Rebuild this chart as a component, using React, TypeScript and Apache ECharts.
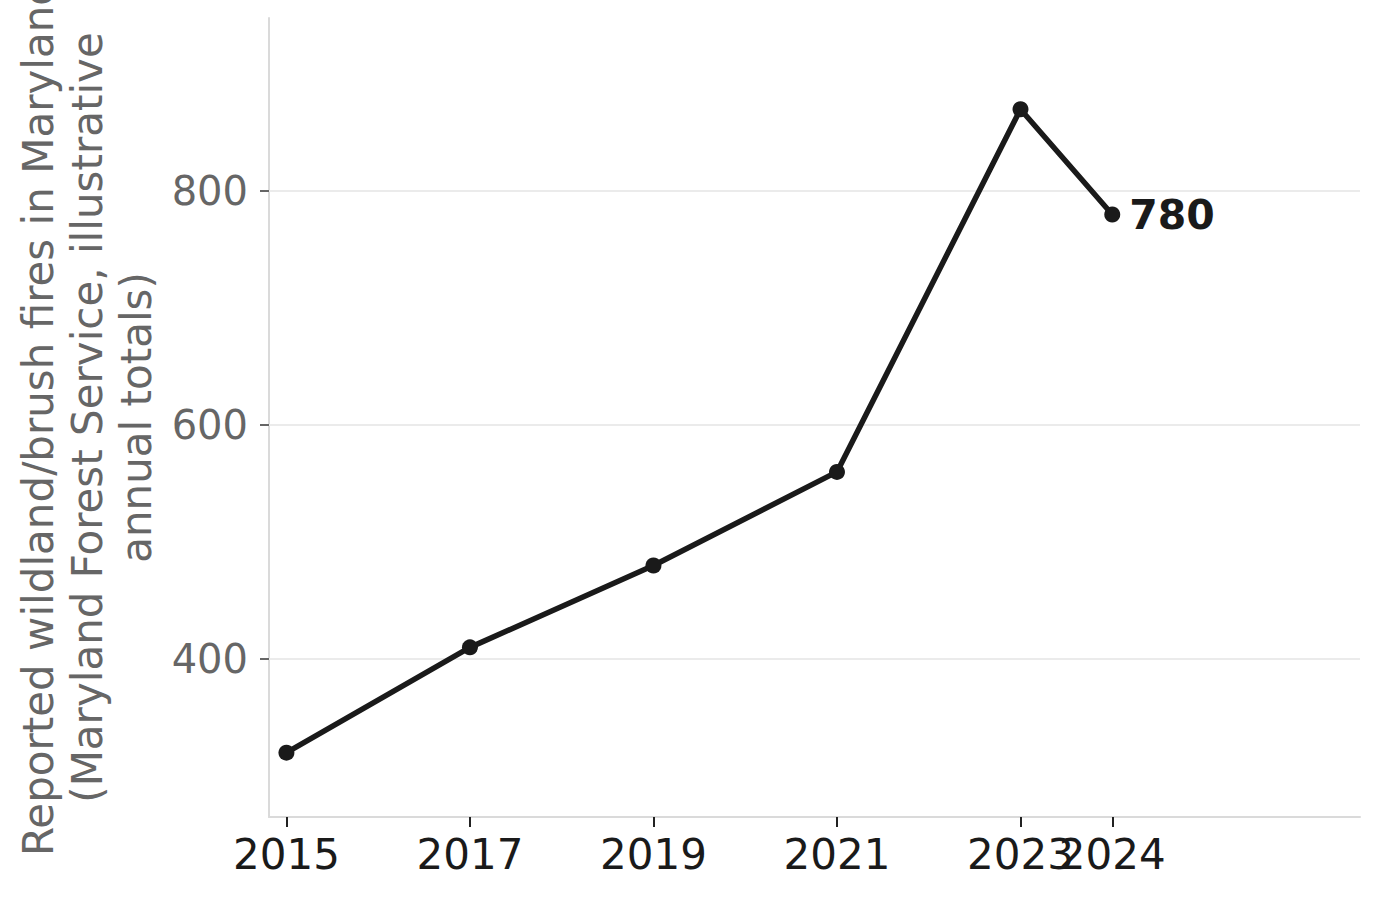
import React, { useEffect, useRef } from "react";
import * as echarts from "echarts";

const years = [2015, 2017, 2019, 2021, 2023, 2024];
const fires = [320, 410, 480, 560, 870, 780];
const yTicks = [400, 600, 800];
const yTitle = "Reported wildland/brush fires in Maryland\n(Maryland Forest Service, illustrative\nannual totals)";
const FONT = "DejaVu Sans";

export default function App() {
  const ref = useRef<HTMLDivElement>(null);
  useEffect(() => {
    if (!ref.current) return;
    const chart = echarts.init(ref.current, null, { renderer: "svg" });
    const data = years.map((y, i) => [y, fires[i]]);
    const xBase = {
      type: "value",
      min: 2014.81,
      max: 2026.7,
      position: "bottom",
      splitLine: { show: false },
    };
    const xLabelStyle = {
      hideOverlap: false,
      fontSize: 42,
      color: "#1a1a1a",
      fontFamily: FONT,
      margin: 16,
      formatter: (v: number) => String(v),
    };
    chart.setOption({
      animation: false,
      backgroundColor: "#ffffff",
      textStyle: { fontFamily: FONT },
      grid: { left: 269, right: 20, top: 18, bottom: 82, containLabel: false, outerBoundsMode: "none" },
      xAxis: [
        {
          ...xBase,
          axisLine: { show: true, lineStyle: { color: "#dadada", width: 2 } },
          axisTick: { show: true, customValues: years, length: 10, lineStyle: { color: "#222222", width: 2 } },
          axisLabel: { ...xLabelStyle, customValues: years.slice(0, -1) },
        },
        {
          ...xBase,
          axisLine: { show: false },
          axisTick: { show: false },
          axisLabel: { ...xLabelStyle, customValues: years.slice(-1) },
        },
      ],
      yAxis: {
        type: "value",
        min: 265,
        max: 948,
        splitLine: { show: false },
        axisLine: { show: true, lineStyle: { color: "#dadada", width: 2 } },
        axisTick: { show: true, customValues: yTicks, length: 9, lineStyle: { color: "#666666", width: 2 } },
        axisLabel: {
          customValues: yTicks,
          fontSize: 40,
          color: "#666666",
          fontFamily: FONT,
          margin: 21,
          formatter: (v: number) => String(v),
        },
        name: yTitle,
        nameLocation: "middle",
        nameRotate: 90,
        nameGap: 106,
        nameTextStyle: { fontSize: 42, lineHeight: 49, color: "#666666", fontFamily: FONT, align: "center" },
      },
      series: [
        {
          type: "line",
          data: [],
          z: 1,
          silent: true,
          markLine: {
            silent: true,
            symbol: "none",
            z: 1,
            label: { show: false },
            lineStyle: { color: "#ebebeb", width: 2, type: "solid" },
            data: yTicks.map((v) => ({ yAxis: v })),
          },
        },
        {
          type: "line",
          data,
          z: 10,
          symbol: "circle",
          symbolSize: 16,
          lineStyle: { color: "#1a1a1a", width: 5.5 },
          itemStyle: { color: "#1a1a1a" },
          label: {
            show: true,
            position: "right",
            distance: 9,
            fontSize: 41,
            fontWeight: "bold",
            color: "#1a1a1a",
            fontFamily: FONT,
            formatter: (p: any) => (p.dataIndex === years.length - 1 ? String(p.value[1]) : ""),
          },
        },
      ],
    });
    return () => chart.dispose();
  }, []);
  return <div ref={ref} style={{ position: "fixed", left: 0, top: 0, width: 1380, height: 899 }} />;
}
